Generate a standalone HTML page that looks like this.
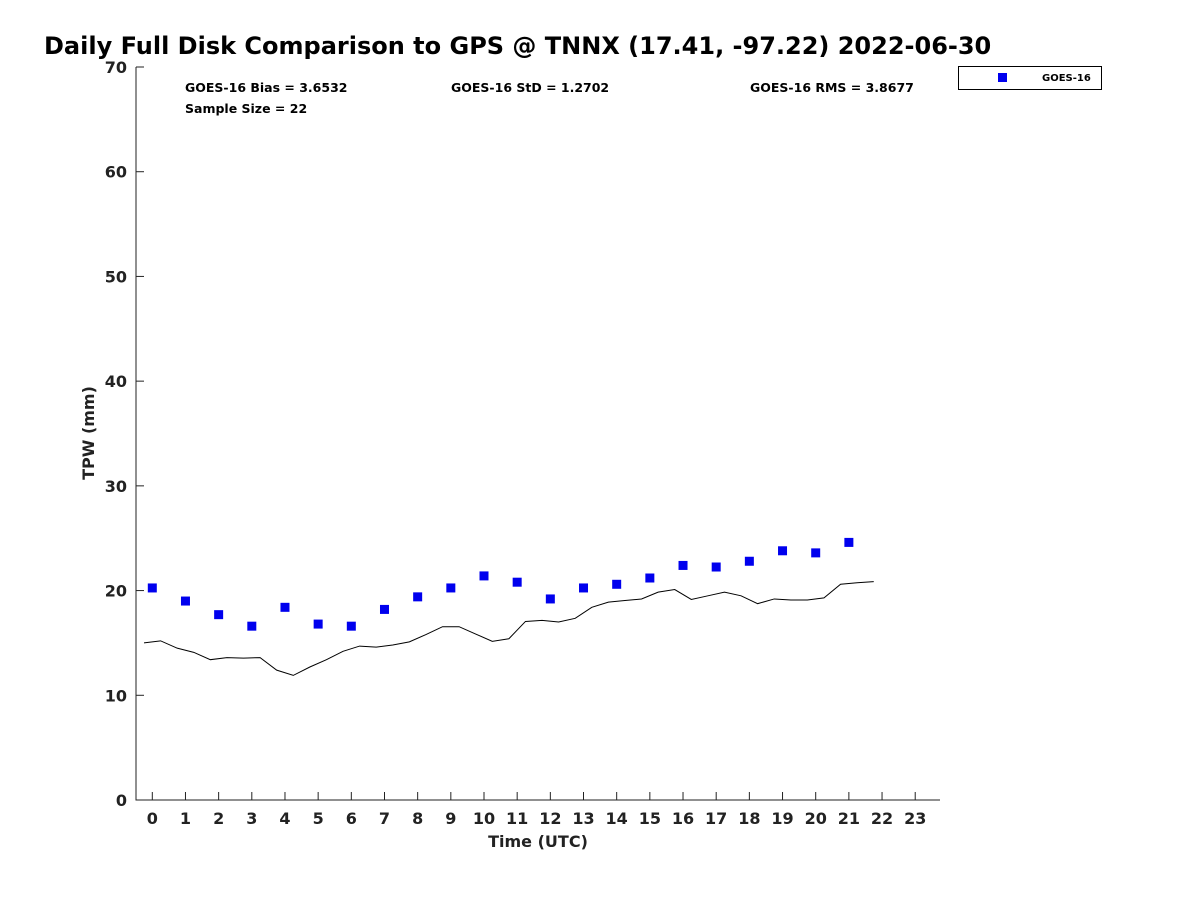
<!DOCTYPE html>
<html><head><meta charset="utf-8"><style>
body{margin:0;background:#fff;}
svg text{font-family:"DejaVu Sans","Liberation Sans",sans-serif;font-weight:bold;}
</style></head><body>
<svg id="chart" width="1200" height="900" xmlns="http://www.w3.org/2000/svg">
<text x="44" y="54" font-size="24" fill="#000">Daily Full Disk Comparison to GPS @ TNNX (17.41, -97.22) 2022-06-30</text>
<g id="axes"></g>
<g id="marks"></g>
<text x="185" y="92" font-size="12.5" fill="#000">GOES-16 Bias = 3.6532</text>
<text x="185" y="113" font-size="12.5" fill="#000">Sample Size = 22</text>
<text x="451" y="92" font-size="12.5" fill="#000">GOES-16 StD = 1.2702</text>
<text x="750" y="92" font-size="12.5" fill="#000">GOES-16 RMS = 3.8677</text>
<g>
<rect x="958.5" y="66.5" width="143" height="23" fill="#fff" stroke="#000" stroke-width="1"/>
<rect x="998" y="73" width="9" height="9" fill="#0000ee"/>
<text x="1042" y="81" font-size="10" fill="#000">GOES-16</text>
</g>
<text x="538" y="847" font-size="16" text-anchor="middle" fill="#222">Time (UTC)</text>
<text transform="translate(94,433) rotate(-90)" font-size="16" text-anchor="middle" fill="#222">TPW (mm)</text>
</svg>
<script>
const gpsTimes = [-0.25,0.25,0.75,1.25,1.75,2.25,2.75,3.25,3.75,4.25,4.75,5.25,5.75,6.25,6.75,7.25,7.75,8.25,8.75,9.25,9.75,10.25,10.75,11.25,11.75,12.25,12.75,13.25,13.75,14.25,14.75,15.25,15.75,16.25,16.75,17.25,17.75,18.25,18.75,19.25,19.75,20.25,20.75,21.25,21.75];
const gpsValues = [15.0,15.2,14.5,14.1,13.4,13.6,13.55,13.6,12.4,11.9,12.7,13.4,14.2,14.7,14.6,14.8,15.1,15.8,16.55,16.55,15.85,15.15,15.4,17.05,17.15,17.0,17.35,18.4,18.9,19.05,19.2,19.85,20.1,19.15,19.5,19.85,19.5,18.75,19.2,19.1,19.1,19.3,20.6,20.75,20.85];
const goesHours = [0,1,2,3,4,5,6,7,8,9,10,11,12,13,14,15,16,17,18,19,20,21];
const goesValues = [20.25,19.0,17.7,16.6,18.4,16.8,16.6,18.2,19.4,20.25,21.4,20.8,19.2,20.25,20.6,21.2,22.4,22.25,22.8,23.8,23.6,24.6];
const xTicks = [0,1,2,3,4,5,6,7,8,9,10,11,12,13,14,15,16,17,18,19,20,21,22,23];
const yTicks = [0,10,20,30,40,50,60,70];

const NS="http://www.w3.org/2000/svg";
const L=136,R=940,T=67,B=800;
const x=h=>152.3+(h)*33.17;
const y=v=>B-(v/70)*(B-T);
function mk(tag,attrs,parent){const e=document.createElementNS(NS,tag);for(const k in attrs)e.setAttribute(k,attrs[k]);parent.appendChild(e);return e;}
const ax=document.getElementById('axes'), mg=document.getElementById('marks');
let e=mk('path',{d:`M${L} ${T}V${B}H${R}`,fill:'none',stroke:'#222','stroke-width':1},ax);


xTicks.forEach(t=>{
  let l=mk('line',{x1:x(t),x2:x(t),y1:B,y2:B-8,stroke:'#222'},ax);
  
  
  let s=mk('text',{x:x(t),y:B+24,'font-size':16,'text-anchor':'middle',fill:'#222'},ax);s.textContent=t;
  
  
});
yTicks.forEach(t=>{
  let l=mk('line',{x1:L,x2:L+8,y1:y(t),y2:y(t),stroke:'#222'},ax);
  
  
  let s=mk('text',{x:L-9,y:y(t)+6,'font-size':16,'text-anchor':'end',fill:'#222'},ax);s.textContent=t;
  
  
});
let pl=mk('polyline',{points:gpsTimes.map((t,i)=>x(t)+','+y(gpsValues[i])).join(' '),fill:'none',stroke:'#000','stroke-width':1},mg);


goesHours.forEach((h,i)=>{
  let r=mk('rect',{x:x(h)-4.5,y:y(goesValues[i])-4.5,width:9,height:9,fill:'#0000ee'},mg);
  
  
});
</script>
</body></html>
